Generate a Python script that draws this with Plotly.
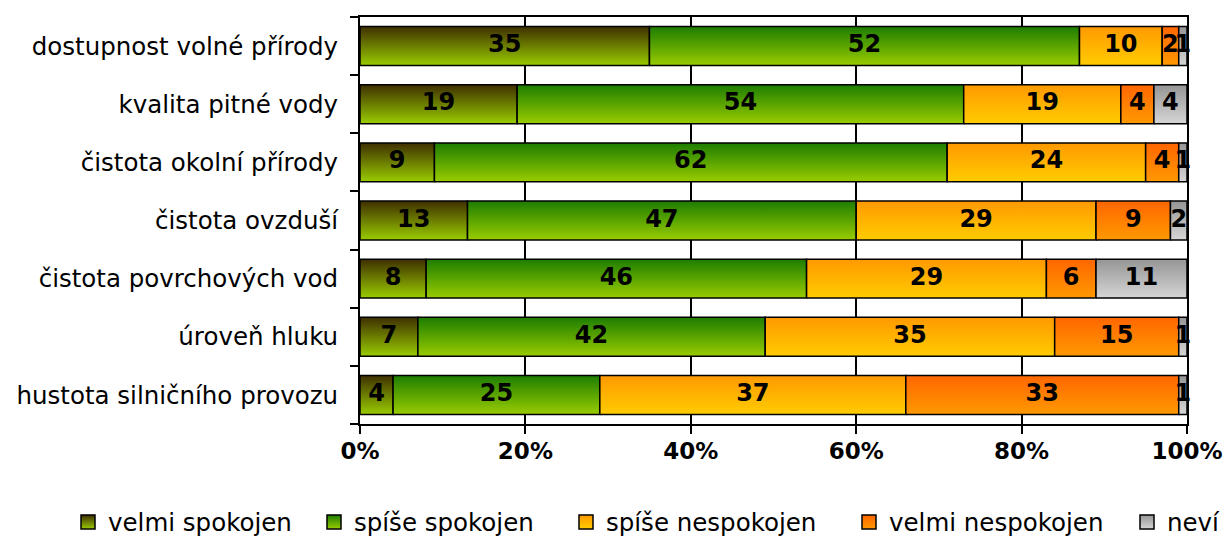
import plotly.graph_objects as go

categories = [
    "dostupnost volné přírody",
    "kvalita pitné vody",
    "čistota okolní přírody",
    "čistota ovzduší",
    "čistota povrchových vod",
    "úroveň hluku",
    "hustota silničního provozu",
]
series_names = ["velmi spokojen", "spíše spokojen", "spíše nespokojen", "velmi nespokojen", "neví"]
velmi_spokojen = [35, 19, 9, 13, 8, 7, 4]
spise_spokojen = [52, 54, 62, 47, 46, 42, 25]
spise_nespokojen = [10, 19, 24, 29, 29, 35, 37]
velmi_nespokojen = [2, 4, 4, 9, 6, 15, 33]
nevi = [1, 4, 1, 2, 11, 1, 1]
x_tickvals = [0, 20, 40, 60, 80, 100]
x_ticktext = ["0%", "20%", "40%", "60%", "80%", "100%"]

series_values = [velmi_spokojen, spise_spokojen, spise_nespokojen, velmi_nespokojen, nevi]
# (top colour, bottom colour) of each gradient
series_colors = [
    ("#3f2f00", "#99cc00"),
    ("#1d7d00", "#99cc00"),
    ("#ff9900", "#ffcc00"),
    ("#ff6600", "#ff9900"),
    ("#959595", "#d6d6d6"),
]
# left pixel position of each legend entry's text
legend_text_px = [106, 352, 604, 887, 1165]

n = len(categories)
half = 0.335
FONT = "DejaVu Sans"

# the page body has an 8px default margin, so the figure is 8px smaller
W, H = 1224, 530
OFF = 8

fig = go.Figure()
left = [0] * n
text_traces = []
for name, vals, (top, bottom) in zip(series_names, series_values, series_colors):
    tx, ty, tt = [], [], []
    for i, v in enumerate(vals):
        x0 = left[i]
        x1 = x0 + v
        yc = n - 1 - i
        fig.add_trace(go.Scatter(
            x=[x0, x1, x1, x0, x0],
            y=[yc - half, yc - half, yc + half, yc + half, yc - half],
            mode="lines", fill="toself",
            fillgradient=dict(type="vertical", colorscale=[[0, bottom], [1, top]]),
            line=dict(color="black", width=1.5),
            showlegend=False, hoverinfo="skip",
        ))
        tx.append((x0 + x1) / 2)
        ty.append(yc)
        tt.append(str(v))
        left[i] = x1
    text_traces.append(go.Scatter(
        x=tx, y=ty, text=tt, mode="text",
        textfont=dict(family=FONT, size=24, color="black", weight="bold"),
        showlegend=False, hoverinfo="skip", cliponaxis=False,
    ))

for t in text_traces:
    fig.add_trace(t)

legend_layouts = {}
for k, (name, (top, bottom)) in enumerate(zip(series_names, series_colors)):
    lname = "legend" if k == 0 else f"legend{k + 1}"
    fig.add_trace(go.Scatter(
        x=[None], y=[None], mode="markers", name=name, legend=lname,
        marker=dict(symbol="square", size=14, color=top,
                    gradient=dict(type="vertical", color=bottom),
                    line=dict(color="black", width=1.5)),
    ))
    legend_layouts[lname] = dict(
        orientation="h", xref="container", yref="container",
        x=(legend_text_px[k] - 38 - OFF) / W, xanchor="left",
        y=1 - (522 - OFF) / H, yanchor="middle",
        font=dict(family=FONT, size=24.5, color="black"),
        itemwidth=30, borderwidth=0, bgcolor="rgba(0,0,0,0)",
    )

fig.update_layout(
    width=W, height=H,
    margin=dict(l=352, r=45, t=7, b=114),
    paper_bgcolor="white", plot_bgcolor="white",
    font=dict(family=FONT, color="black"),
    showlegend=True,
    xaxis=dict(
        range=[0, 100], tickvals=x_tickvals, ticktext=x_ticktext,
        showgrid=True, gridcolor="black", gridwidth=1.5,
        showline=True, linecolor="black", linewidth=2, mirror=True,
        ticks="outside", ticklen=8, tickwidth=2, tickcolor="black",
        tickfont=dict(family=FONT, size=23, color="black", weight="bold"),
        ticklabelstandoff=-3, zeroline=False, fixedrange=True,
    ),
    yaxis=dict(
        range=[-0.5, n - 0.5],
        tickvals=list(range(n)), ticktext=list(reversed(categories)),
        showgrid=False, zeroline=False,
        showline=True, linecolor="black", linewidth=2, mirror=True,
        ticks="outside", ticklen=8, tickcolor="rgba(0,0,0,0)",
        ticklabelstandoff=7,
        tickfont=dict(family=FONT, size=24.5, color="black"),
        minor=dict(tickmode="array", tickvals=[k - 0.5 for k in range(n + 1)],
                   ticks="outside", ticklen=8, tickwidth=2, tickcolor="black",
                   showgrid=False),
        fixedrange=True,
    ),
    **legend_layouts,
)

fig.write_html("out.html")
